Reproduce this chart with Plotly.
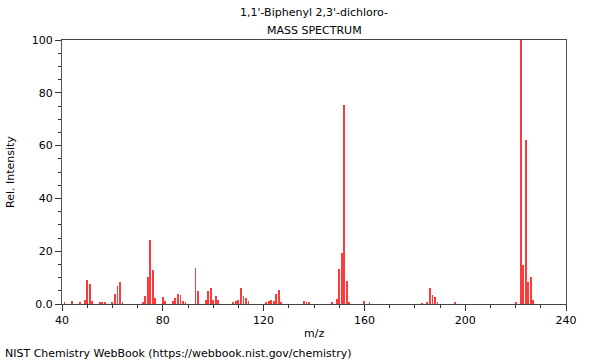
import plotly.graph_objects as go

mz = [41, 44, 47, 49, 50, 51, 52, 55, 56, 57, 60, 61, 62, 63, 64, 72, 73, 74, 75, 76, 77,
      80, 81, 84, 85, 86, 87, 88, 89, 93, 94, 97, 98, 99, 100, 101, 102, 108, 109, 110,
      111, 112, 113, 114, 121, 122, 123, 124, 125, 126, 127, 136, 137, 138, 147, 149, 150,
      151, 152, 153, 154, 160, 162, 183, 185, 186, 187, 188, 189, 196, 220, 222, 223, 224,
      225, 226, 227]
intensity = [0.5, 1.3, 0.5, 1.5, 9.0, 7.4, 1.1, 0.5, 0.5, 0.6, 0.8, 3.8, 6.8, 8.2, 0.8, 0.5,
             3.0, 10.3, 24.2, 12.9, 2.4, 2.7, 1.3, 1.3, 2.1, 3.8, 3.3, 1.1, 0.5, 13.6, 4.9,
             1.6, 4.9, 6.1, 1.6, 2.9, 1.5, 0.5, 1.1, 1.5, 6.1, 3.0, 2.1, 1.1, 0.5, 1.1, 1.6,
             1.0, 3.9, 5.3, 0.9, 1.3, 0.5, 0.4, 0.5, 2.0, 13.1, 19.4, 75.5, 8.8, 0.5, 1.1,
             0.5, 0.3, 0.5, 6.1, 3.4, 2.7, 0.9, 0.5, 0.4, 100, 14.6, 62.1, 8.5, 10.1, 1.4]

y_ticks = [0, 20, 40, 60, 80, 100]
y_ticktext = ["0.0", "20", "40", "60", "80", "100"]
x_ticks = [40, 80, 120, 160, 200, 240]

FONT = "DejaVu Sans"
PL, PR, PT, PB = 62, 566, 40, 304  # plot area in page pixels


def ann(text, px, py, **kw):
    d = dict(text=text, x=(px - PL) / (PR - PL), y=(PB - py) / (PB - PT),
             xref="paper", yref="paper", showarrow=False,
             xanchor="center", yanchor="middle", font=dict(size=11))
    d.update(kw)
    return d


fig = go.Figure()
fig.add_trace(go.Bar(x=mz, y=intensity, width=0.35,
                     marker=dict(color="#ff3a3a", line=dict(width=0))))

fig.update_layout(
    width=600, height=360,
    margin=dict(l=PL, r=600 - PR, t=PT, b=360 - PB),
    plot_bgcolor="white", paper_bgcolor="white",
    showlegend=False,
    font=dict(family=FONT, size=11, color="#000"),
    bargap=0,
    annotations=[
        ann("1,1'-Biphenyl 2,3'-dichloro-", 314, 13),
        ann("MASS SPECTRUM", 314, 30),
        ann("m/z", 314, 333),
        ann("Rel. Intensity", 10, 172, textangle=-90),
        ann("NIST Chemistry WebBook (https://webbook.nist.gov/chemistry)", 3, 353,
            xanchor="left"),
    ],
)

fig.update_xaxes(range=[40, 240], tickvals=x_ticks, ticks="outside", ticklen=6,
                 tickcolor="#333", showline=True, linecolor="#444", linewidth=1,
                 mirror=True, showgrid=False, zeroline=False,
                 minor=dict(dtick=10, tick0=0, ticks="outside", ticklen=3, tickcolor="#333"))
fig.update_yaxes(range=[0, 100], tickvals=y_ticks, ticktext=y_ticktext, ticks="outside",
                 ticklen=6, tickcolor="#333", showline=True, linecolor="#555", linewidth=1,
                 mirror=True, showgrid=False, zeroline=False,
                 minor=dict(dtick=5, tick0=0, ticks="outside", ticklen=3, tickcolor="#333"))

fig.write_html("out.html", config={"displayModeBar": False},
               post_script="document.body.style.margin='0';document.body.style.overflow='hidden';")
